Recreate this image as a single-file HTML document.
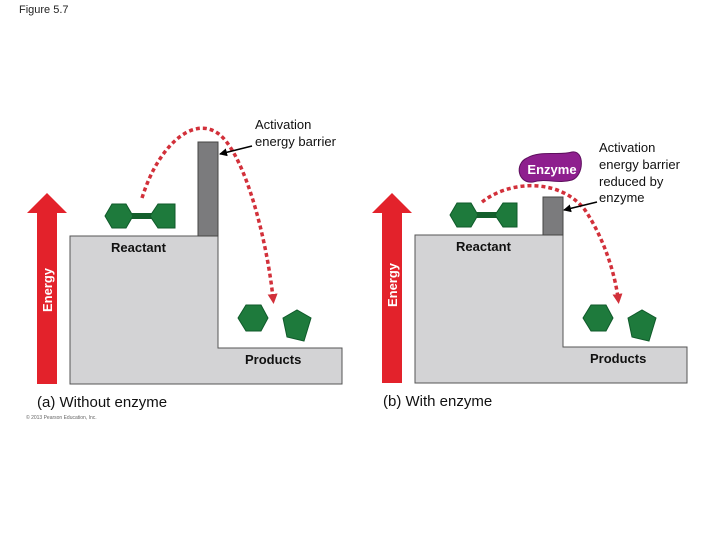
<!DOCTYPE html>
<html><head><meta charset="utf-8"><style>
html,body{margin:0;padding:0;background:#fff;}
svg{display:block;}
text{font-family:"Liberation Sans",Arial,sans-serif;}
</style></head><body>
<svg width="720" height="540" viewBox="0 0 720 540" xmlns="http://www.w3.org/2000/svg">
<defs>
<marker id="ah" markerWidth="10" markerHeight="10" refX="4" refY="5" orient="auto" markerUnits="userSpaceOnUse"><path d="M0,0 L10,5 L0,10 Z" fill="#d2303a"/></marker>
<marker id="bk" markerWidth="8" markerHeight="8" refX="7" refY="4" orient="auto" markerUnits="userSpaceOnUse"><path d="M0,0 L8,4 L0,8 Z" fill="#000"/></marker>
</defs>
<text x="19" y="13" font-size="11" fill="#222">Figure 5.7</text>

<!-- Panel A -->
<path d="M70,236 H218 V348 H342 V384 H70 Z" fill="#d3d3d5" stroke="#555" stroke-width="1"/>
<rect x="198" y="142" width="20" height="94" fill="#7b7b7d" stroke="#444" stroke-width="1"/>
<path d="M37,384 V213 H27 L47,193 L67,213 H57 V384 Z" fill="#e3222b"/>
<text transform="translate(52,290) rotate(-90)" text-anchor="middle" font-size="13" font-weight="bold" fill="#fff">Energy</text>
<g fill="#1e7a3c" stroke="#0f5a2a" stroke-width="1">
<path d="M105,216 L112,204 L126,204 L133,216 L126,228 L112,228 Z"/>
<rect x="132" y="213" width="20" height="6" fill="#145f2c" stroke="none"/>
<path d="M150,216 L158,204 L175,204 L175,228 L158,228 Z"/>
<path d="M238,318 L246,305 L261,305 L268,318 L261,331 L246,331 Z"/>
<path d="M283,318 L297,310 L311,318 L304,341 L287,337 Z"/>
</g>
<path d="M142,198 C160,140 200,110 225,140 C250,170 268,250 273,298" fill="none" stroke="#d2303a" stroke-width="3.5" stroke-dasharray="4,3" marker-end="url(#ah)"/>
<text x="255" y="129" font-size="13" fill="#111">Activation</text>
<text x="255" y="146" font-size="13" fill="#111">energy barrier</text>
<line x1="252" y1="146" x2="220" y2="154" stroke="#000" stroke-width="1.5" marker-end="url(#bk)"/>
<text x="111" y="252" font-size="13" font-weight="bold" fill="#111">Reactant</text>
<text x="245" y="364" font-size="13" font-weight="bold" fill="#111">Products</text>
<text x="37" y="407" font-size="15" fill="#111">(a) Without enzyme</text>
<text x="26" y="419" font-size="5" fill="#666">© 2013 Pearson Education, Inc.</text>

<!-- Panel B -->
<path d="M415,235 H563 V347 H687 V383 H415 Z" fill="#d3d3d5" stroke="#555" stroke-width="1"/>
<rect x="543" y="197" width="20" height="38" fill="#7b7b7d" stroke="#444" stroke-width="1"/>
<path d="M382,383 V213 H372 L392,193 L412,213 H402 V383 Z" fill="#e3222b"/>
<text transform="translate(397,285) rotate(-90)" text-anchor="middle" font-size="13" font-weight="bold" fill="#fff">Energy</text>
<g fill="#1e7a3c" stroke="#0f5a2a" stroke-width="1">
<path d="M450,215 L457,203 L471,203 L478,215 L471,227 L457,227 Z"/>
<rect x="477" y="212" width="20" height="6" fill="#145f2c" stroke="none"/>
<path d="M495,215 L503,203 L517,203 L517,227 L503,227 Z"/>
<path d="M583,318 L591,305 L606,305 L613,318 L606,331 L591,331 Z"/>
<path d="M628,318 L642,310 L656,318 L649,341 L632,337 Z"/>
</g>
<path d="M482,202 C510,180 560,178 585,210 C605,240 615,275 618,298" fill="none" stroke="#d2303a" stroke-width="3.5" stroke-dasharray="4,3" marker-end="url(#ah)"/>
<path d="M527,158 C540,150 560,156 572,152 C585,150 584,176 572,180 C558,184 545,178 533,182 C518,184 514,164 527,158 Z" fill="#8e1f8e" stroke="#5e0f5e" stroke-width="1"/>
<text x="552" y="174" text-anchor="middle" font-size="13" font-weight="bold" fill="#fff">Enzyme</text>
<text x="599" y="152" font-size="13" fill="#111">Activation</text>
<text x="599" y="169" font-size="13" fill="#111">energy barrier</text>
<text x="599" y="186" font-size="13" fill="#111">reduced by</text>
<text x="599" y="202" font-size="13" fill="#111">enzyme</text>
<line x1="597" y1="202" x2="564" y2="210" stroke="#000" stroke-width="1.5" marker-end="url(#bk)"/>
<text x="456" y="251" font-size="13" font-weight="bold" fill="#111">Reactant</text>
<text x="590" y="363" font-size="13" font-weight="bold" fill="#111">Products</text>
<text x="383" y="406" font-size="15" fill="#111">(b) With enzyme</text>
</svg>
</body></html>
